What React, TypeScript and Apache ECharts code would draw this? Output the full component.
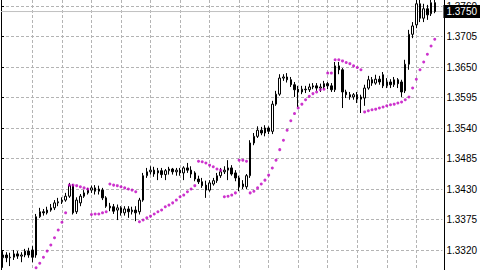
import React, { useEffect, useRef } from "react";
import * as echarts from "echarts";

const SLOTS = 120;
const categories = Array.from({ length: SLOTS }, (_, i) => `B${i}`);

const opens = [
  1.3306, 1.3311, 1.3306, 1.3307, 1.3313, 1.3309, 1.3311, 1.3318, 1.332, 1.3311,
  1.338, 1.3389, 1.3387, 1.3392, 1.3396, 1.3405, 1.3407, 1.341, 1.3417, 1.3436,
  1.3389, 1.3405, 1.3417, 1.3423, 1.3428, 1.3432, 1.3426, 1.3428, 1.3414, 1.3399,
  1.3398, 1.3392, 1.3396, 1.3387, 1.3394, 1.3389, 1.3392, 1.3389, 1.341, 1.3454,
  1.3461, 1.3464, 1.3459, 1.3463, 1.3456, 1.3463, 1.3466, 1.3461, 1.3464, 1.3459,
  1.3468, 1.3464, 1.3459, 1.3448, 1.3443, 1.3437, 1.3428, 1.3439, 1.3445, 1.3454,
  1.3461, 1.3464, 1.3468, 1.3459, 1.345, 1.3434, 1.3434, 1.3454, 1.3513, 1.3525,
  1.3536, 1.3531, 1.354, 1.3534, 1.3583, 1.3601, 1.363, 1.3632, 1.3627, 1.3618,
  1.361, 1.3605, 1.361, 1.3609, 1.3614, 1.3616, 1.3612, 1.3614, 1.362, 1.3616,
  1.3609, 1.3652, 1.3645, 1.3605, 1.36, 1.3596, 1.36, 1.3592, 1.3594, 1.3612,
  1.3627, 1.3621, 1.3628, 1.3636, 1.3616, 1.3623, 1.3618, 1.3627, 1.3623, 1.3607,
  1.3655, 1.3709, 1.3726, 1.3764, 1.3738, 1.3755, 1.3746, 1.3766,
];

const closes = [
  1.3311, 1.3306, 1.3307, 1.3313, 1.3309, 1.3311, 1.3318, 1.3311, 1.3307, 1.338,
  1.3389, 1.3387, 1.3392, 1.3396, 1.3405, 1.3407, 1.341, 1.3417, 1.3436, 1.3387,
  1.341, 1.3417, 1.3423, 1.3428, 1.3432, 1.3426, 1.343, 1.3414, 1.3399, 1.3396,
  1.339, 1.3396, 1.3387, 1.3394, 1.3389, 1.3392, 1.3387, 1.341, 1.3454, 1.3461,
  1.3464, 1.3457, 1.3463, 1.3456, 1.3463, 1.3466, 1.3461, 1.3464, 1.3459, 1.3468,
  1.3464, 1.3457, 1.3448, 1.3443, 1.3436, 1.3428, 1.3441, 1.3445, 1.3454, 1.3461,
  1.3464, 1.3468, 1.3457, 1.345, 1.3434, 1.3439, 1.3454, 1.3513, 1.3525, 1.3536,
  1.3531, 1.354, 1.3534, 1.3583, 1.3601, 1.363, 1.3632, 1.3627, 1.3618, 1.3609,
  1.3605, 1.361, 1.3609, 1.3614, 1.3616, 1.3612, 1.3614, 1.362, 1.3616, 1.3609,
  1.3652, 1.3645, 1.3605, 1.36, 1.3596, 1.36, 1.3592, 1.3596, 1.3612, 1.3627,
  1.3621, 1.3628, 1.3623, 1.3616, 1.3623, 1.3618, 1.3627, 1.362, 1.3605, 1.3655,
  1.3709, 1.3724, 1.3764, 1.3738, 1.3755, 1.3744, 1.3766, 1.375,
];

const lows = [
  1.3288, 1.3298, 1.3291, 1.3302, 1.3304, 1.3298, 1.3307, 1.3306, 1.3298, 1.3306,
  1.3378, 1.3382, 1.3384, 1.3389, 1.3392, 1.3399, 1.3403, 1.3407, 1.3414, 1.3384,
  1.3385, 1.3399, 1.3414, 1.342, 1.3423, 1.342, 1.342, 1.341, 1.3396, 1.339,
  1.3385, 1.3374, 1.3382, 1.3382, 1.3378, 1.3384, 1.3372, 1.3384, 1.3407, 1.345,
  1.3456, 1.3452, 1.3446, 1.345, 1.3446, 1.3456, 1.3456, 1.3454, 1.3454, 1.3446,
  1.3459, 1.345, 1.3444, 1.3439, 1.3432, 1.3414, 1.3425, 1.3436, 1.3441, 1.345,
  1.3457, 1.3446, 1.3454, 1.3444, 1.3426, 1.343, 1.343, 1.345, 1.3509, 1.3522,
  1.3527, 1.3525, 1.3529, 1.3529, 1.358, 1.3598, 1.3625, 1.3622, 1.3614, 1.3596,
  1.3578, 1.3601, 1.3603, 1.3605, 1.361, 1.3607, 1.3605, 1.361, 1.361, 1.3605,
  1.3605, 1.3637, 1.3576, 1.3594, 1.3591, 1.3591, 1.3585, 1.3567, 1.358, 1.3609,
  1.3616, 1.3618, 1.3618, 1.3612, 1.3612, 1.3612, 1.3614, 1.3612, 1.3596, 1.3603,
  1.3645, 1.3702, 1.372, 1.3731, 1.3731, 1.3735, 1.3742, 1.3747,
];

const highs = [
  1.3318, 1.3316, 1.3315, 1.332, 1.3318, 1.3316, 1.3322, 1.3324, 1.3327, 1.3385,
  1.3396, 1.3394, 1.3398, 1.3403, 1.341, 1.3414, 1.3415, 1.3423, 1.3441, 1.3439,
  1.3415, 1.3421, 1.3428, 1.3432, 1.3436, 1.3437, 1.3436, 1.3432, 1.3417, 1.3405,
  1.3403, 1.3402, 1.3399, 1.3399, 1.3399, 1.3398, 1.3399, 1.3414, 1.3459, 1.3468,
  1.3471, 1.347, 1.3468, 1.3468, 1.3466, 1.347, 1.3468, 1.3468, 1.3468, 1.3471,
  1.3477, 1.3471, 1.3462, 1.3454, 1.345, 1.3445, 1.3446, 1.345, 1.3459, 1.3468,
  1.3471, 1.3482, 1.3473, 1.3464, 1.3454, 1.3446, 1.3457, 1.3518, 1.3531, 1.3543,
  1.3542, 1.3545, 1.3543, 1.3589, 1.3607, 1.3637, 1.3637, 1.3639, 1.3632, 1.3623,
  1.3616, 1.3616, 1.3616, 1.362, 1.3621, 1.3621, 1.362, 1.3625, 1.3623, 1.3621,
  1.3659, 1.3659, 1.3648, 1.3609, 1.3605, 1.3603, 1.3605, 1.36, 1.3618, 1.3634,
  1.3632, 1.3636, 1.3634, 1.3641, 1.363, 1.3628, 1.3632, 1.363, 1.3627, 1.3663,
  1.3717, 1.3731, 1.3771, 1.3771, 1.3764, 1.3762, 1.3771, 1.3771,
];

// Parabolic SAR dots (null = no dot)
const sar: (number | null)[] = [
  null, null, null, null, null, null, null, null, null,
  1.3288, 1.3296, 1.3307, 1.3318, 1.3329, 1.3342, 1.3356, 1.337, 1.3387,
  1.3437, 1.3437, 1.3436, 1.3434, 1.3432, 1.343,
  1.3384, 1.3385, 1.3385, 1.3387, 1.3389,
  1.3439, 1.3437, 1.3436, 1.3434, 1.3432, 1.343, 1.3428, 1.3425,
  1.3371, 1.3374, 1.3378, 1.3381, 1.3385, 1.3389, 1.3392, 1.3398, 1.3401, 1.3405,
  1.341, 1.3416, 1.3419, 1.3425, 1.343, 1.3436,
  1.348, 1.3479, 1.3477, 1.3473, 1.347, 1.3466, 1.3464,
  1.3416, 1.3417, 1.3419, 1.3423,
  1.3482, 1.3482, 1.348,
  1.3423, 1.3426, 1.3432, 1.3439, 1.3446, 1.3455, 1.3468, 1.3482, 1.3501, 1.3518,
  1.3536, 1.3553, 1.3566, 1.3576, 1.3583, 1.3591, 1.3597, 1.3602, 1.3605, 1.3609, 1.361,
  1.3639, 1.3639, 1.3663, 1.3663, 1.3661, 1.3658, 1.3656, 1.3652, 1.3649, 1.3645,
  1.3569, 1.3571, 1.3573, 1.3574, 1.3576, 1.3578, 1.358, 1.3582, 1.3583, 1.3585,
  1.3587, 1.3591, 1.3596, 1.3612, 1.3628, 1.3645, 1.3659, 1.3673, 1.3688, 1.37,
];

const lastPrice = 1.375;
const tickMin = 1.332;
const tickMax = 1.376;
const tickStep = 0.0055;
const viewMin = 1.328393;
const viewMax = 1.377082;

const FONT = '"Liberation Sans Narrow", "Liberation Sans", Arial, sans-serif';
const GRID_LINE = { color: "#b4b4b4", type: [3, 2] as number[], width: 1 };

const hiddenAxis = {
  axisLine: { show: false },
  axisTick: { show: false },
  axisLabel: { show: false },
  splitLine: { show: false },
};

export default function App() {
  const ref = useRef<HTMLDivElement>(null);
  useEffect(() => {
    const chart = echarts.init(ref.current!, null, { renderer: "svg" });
    const candleData = opens.map((o, i) => [o, closes[i], lows[i], highs[i]]);
    const sarData = sar.map((v) => (v == null ? "-" : v));
    const left = 1;
    const right = 36;
    const barW = (480 - left - right) / SLOTS;
    chart.setOption({
      animation: false,
      backgroundColor: "#ffffff",
      grid: [
        { left, right, top: 0, bottom: 0 },
        { left, right, top: 6, bottom: 20 },
        { left: left + barW / 2, right, top: 0, bottom: 0 },
      ],
      xAxis: [
        {
          type: "category",
          gridIndex: 0,
          data: categories,
          boundaryGap: true,
          ...hiddenAxis,
        },
        { type: "value", gridIndex: 1, min: 0, max: 1, ...hiddenAxis },
        {
          type: "value",
          gridIndex: 2,
          min: 0,
          max: SLOTS - 0.5,
          interval: 8,
          ...hiddenAxis,
          splitLine: { show: true, showMinLine: false, showMaxLine: false, lineStyle: GRID_LINE },
        },
      ],
      yAxis: [
        {
          type: "value",
          gridIndex: 0,
          position: "right",
          min: viewMin,
          max: viewMax,
          ...hiddenAxis,
          axisLine: { show: true, lineStyle: { color: "#000", width: 1 } },
        },
        {
          type: "value",
          gridIndex: 1,
          position: "right",
          min: tickMin,
          max: tickMax,
          interval: tickStep,
          axisLine: { show: false },
          axisTick: { show: true, length: 3, lineStyle: { color: "#000" } },
          axisLabel: {
            margin: 4,
            fontSize: 10,
            color: "#000",
            fontFamily: FONT,
            formatter: (v: number) => v.toFixed(4),
          },
          splitLine: { show: true, lineStyle: GRID_LINE },
        },
        {
          type: "value",
          gridIndex: 0,
          position: "left",
          min: viewMin,
          max: viewMax,
          ...hiddenAxis,
          axisLine: { show: true, lineStyle: { color: "#000", width: 1 } },
        },
        { type: "value", gridIndex: 2, min: 0, max: 1, ...hiddenAxis },
      ],
      series: [
        {
          type: "line",
          xAxisIndex: 1,
          yAxisIndex: 1,
          data: [
            [0, lastPrice],
            [1, lastPrice],
          ],
          symbol: "none",
          silent: true,
          clip: false,
          z: 1,
          lineStyle: { color: "#c0c0c0", width: 1 },
          endLabel: {
            show: true,
            distance: 1,
            formatter: () => lastPrice.toFixed(4),
            backgroundColor: "#000",
            color: "#fff",
            padding: [2, 3, 1, 3],
            fontSize: 10,
            fontFamily: FONT,
          },
        },
        {
          type: "candlestick",
          xAxisIndex: 0,
          yAxisIndex: 0,
          data: candleData,
          barWidth: 2,
          itemStyle: {
            color: "#ffffff",
            color0: "#000000",
            borderColor: "#000000",
            borderColor0: "#000000",
            borderWidth: 1,
          },
        },
        {
          type: "scatter",
          xAxisIndex: 0,
          yAxisIndex: 0,
          data: sarData,
          symbol: "circle",
          symbolSize: 3,
          itemStyle: { color: "#c000c0" },
          z: 3,
        },
        { type: "line", xAxisIndex: 2, yAxisIndex: 3, data: [], silent: true },
      ],
    });
    return () => chart.dispose();
  }, []);
  return (
    <div
      ref={ref}
      style={{ position: "fixed", left: 0, top: 0, width: 480, height: 270, background: "#fff" }}
    />
  );
}
